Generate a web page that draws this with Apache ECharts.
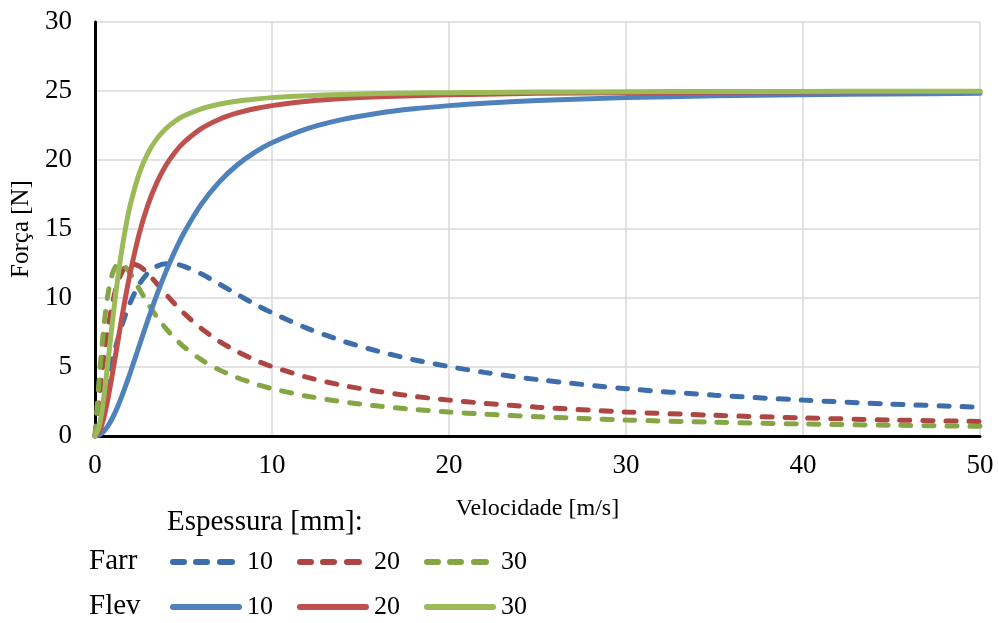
<!DOCTYPE html>
<html><head><meta charset="utf-8">
<script src="https://cdn.jsdelivr.net/npm/echarts@6/dist/echarts.min.js"></script>
<style>html,body{margin:0;padding:0;background:#fff}#c{width:999px;height:623px}</style>
</head><body><div id="c"></div>
<script>
const xs = [0,0.25,0.5,0.75,1,1.25,1.5,1.75,2,2.5,3,3.5,4,4.5,5,6,7,8,9,10,12,14,16,18,20,22,25,30,35,40,45,50];
const farr10 = [0,1.48,2.94,4.33,5.63,6.84,7.92,8.88,9.70,10.99,11.82,12.30,12.49,12.47,12.31,11.75,11.03,10.29,9.58,8.93,7.80,6.88,6.14,5.53,5.03,4.61,4.09,3.43,2.96,2.60,2.31,2.09];
const farr20 = [0,2.94,5.63,7.92,9.70,10.99,11.82,12.30,12.49,12.31,11.75,11.03,10.29,9.58,8.93,7.80,6.88,6.14,5.53,5.03,4.25,3.67,3.23,2.88,2.60,2.37,2.09,1.74,1.50,1.31,1.16,1.05];
const farr30 = [0,4.33,7.92,10.41,11.82,12.42,12.47,12.20,11.75,10.66,9.58,8.62,7.80,7.09,6.49,5.53,4.81,4.25,3.80,3.43,2.88,2.48,2.17,1.93,1.74,1.58,1.40,1.16,1.00,0.87,0.78,0.70];
const flev10 = [0,0.09,0.35,0.77,1.34,2.03,2.83,3.70,4.62,6.54,8.45,10.25,11.89,13.36,14.66,16.78,18.38,19.60,20.53,21.25,22.27,22.94,23.39,23.71,23.94,24.12,24.31,24.52,24.65,24.73,24.78,24.83];
const flev20 = [0,0.35,1.34,2.83,4.62,6.54,8.45,10.25,11.89,14.66,16.78,18.38,19.60,20.53,21.25,22.27,22.94,23.39,23.71,23.94,24.26,24.45,24.58,24.66,24.73,24.77,24.83,24.88,24.91,24.93,24.95,24.96];
const flev30 = [0,0.77,2.83,5.58,8.45,11.09,13.36,15.24,16.78,19.03,20.53,21.55,22.27,22.79,23.18,23.71,24.04,24.26,24.41,24.52,24.66,24.75,24.81,24.85,24.88,24.90,24.92,24.95,24.96,24.97,24.98,24.98];
const thick = ['10','20','30'];
const yTicks = [0,5,10,15,20,25,30];
const xTicks = [0,10,20,30,40,50];

const dashCols = ['#3D6DAB','#AD4542','#86A646'];
const solidCols = ['#4F81BD','#C0504D','#9BBB59'];
const FONT = '"Liberation Serif", "Times New Roman", serif';

function pts(arr){ return xs.map((x,i)=>[x, arr[i]]); }
const farr = [farr10, farr20, farr30];
const flev = [flev10, flev20, flev30];
const series = [];
farr.forEach((a,i)=>series.push({
  name:'Farr '+thick[i], type:'line', data:pts(a), smooth:0.3, symbol:'none',
  lineStyle:{color:dashCols[i], width:5, type:[10,13], cap:'round'}, itemStyle:{color:dashCols[i]}, z:2
}));
flev.forEach((a,i)=>series.push({
  name:'Flev '+thick[i], type:'line', data:pts(a), smooth:0.3, symbol:'none',
  lineStyle:{color:solidCols[i], width:5, cap:'round'}, itemStyle:{color:solidCols[i]}, z:3
}));

const dashIcon = 'path://M3,0H14A3,3 0 0 1 14,6H3A3,3 0 0 1 3,0Z M26,0H37A3,3 0 0 1 37,6H26A3,3 0 0 1 26,0Z M50,0H62A3,3 0 0 1 62,6H50A3,3 0 0 1 50,0Z';
const solidIcon = 'path://M3,0H69A3,3 0 0 1 69,6H3A3,3 0 0 1 3,0Z';

function legendRow(top, names, icon, w, padLeft){
  return {
    top, left:170, orient:'horizontal', itemWidth:w, itemHeight:6, itemGap:24, padding:0,
    icon, itemStyle:{borderWidth:0}, lineStyle:{width:0},
    textStyle:{fontFamily:FONT, fontSize:26, color:'#000', lineHeight:28, padding:[0,0,0,padLeft]},
    formatter: n => n.split(' ')[1], selectedMode:false, data:names
  };
}

const chart = echarts.init(document.getElementById('c'), null, {renderer:'canvas'});
chart.setOption({
  animation:false,
  backgroundColor:'#fff',
  grid:{left:95, right:19, top:22, bottom:187, containLabel:false},
  xAxis:{type:'value', min:0, max:50, interval:10,
    name:'Velocidade [m/s]', nameLocation:'middle', nameGap:61,
    nameTextStyle:{fontFamily:FONT, fontSize:24, color:'#000'},
    axisLine:{show:true, lineStyle:{color:'#000', width:3}},
    axisTick:{show:false},
    axisLabel:{fontFamily:FONT, fontSize:27, color:'#000', margin:16},
    splitLine:{show:true, lineStyle:{color:'#D9D9D9', width:1.5}}},
  yAxis:{type:'value', min:0, max:30, interval:5,
    name:'Força [N]', nameLocation:'middle', nameGap:60, nameRotate:90,
    nameTextStyle:{fontFamily:FONT, fontSize:25, color:'#000'},
    axisLine:{show:true, lineStyle:{color:'#000', width:3}},
    axisTick:{show:false},
    axisLabel:{fontFamily:FONT, fontSize:27, color:'#000', margin:23},
    splitLine:{show:true, lineStyle:{color:'#D9D9D9', width:1.5}}},
  legend:[
    legendRow(548, series.slice(0,3).map(s=>s.name), dashIcon, 65, 7),
    legendRow(593, series.slice(3).map(s=>s.name), solidIcon, 72, 0)
  ],
  graphic:[
    {type:'text', left:167, top:508, style:{text:'Espessura [mm]:', font:'29px '+FONT, fill:'#000'}},
    {type:'text', left:89, top:547, style:{text:'Farr', font:'29px '+FONT, fill:'#000'}},
    {type:'text', left:89, top:592, style:{text:'Flev', font:'29px '+FONT, fill:'#000'}}
  ],
  series
});
</script></body></html>
